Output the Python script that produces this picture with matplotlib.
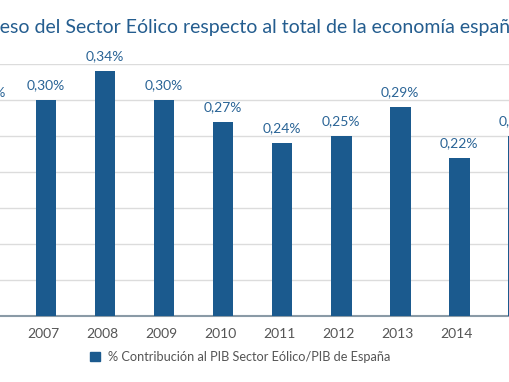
import matplotlib
matplotlib.use("Agg")
import matplotlib.pyplot as plt
from matplotlib.patches import Patch
from matplotlib.transforms import ScaledTranslation

plt.rcParams['font.family'] = ['Lato', 'DejaVu Sans']

years = ['2006', '2007', '2008', '2009', '2010', '2011', '2012', '2013', '2014', '2015']
values = [0.29, 0.30, 0.34, 0.30, 0.27, 0.24, 0.25, 0.29, 0.22, 0.25]
labels = ['0,29%', '0,30%', '0,34%', '0,30%', '0,27%', '0,24%', '0,25%', '0,29%', '0,22%', '0,25%']
title = 'Peso del Sector Eólico respecto al total de la economía española'
legend_label = '% Contribución al PIB Sector Eólico/PIB de España'

blue = '#1b5a8e'
txt_blue = '#2a6496'
gray = '#555555'

fig = plt.figure(figsize=(5.10, 3.82), dpi=100)
ax = fig.add_axes([0, 0.1728, 1, 0.6597])

pos = list(range(-1, len(years) - 1))
ax.bar(pos, values, width=0.35, color=blue, zorder=3)
for p, v, l in zip(pos, values, labels):
    ax.text(p, v + 0.012, l, ha='center', va='bottom', fontsize=10, color=txt_blue)

ax.set_yticks([0.05, 0.10, 0.15, 0.20, 0.25, 0.30, 0.35])
ax.yaxis.grid(True, color='#dcdcdc', linewidth=1, zorder=0)
ax.tick_params(axis='y', left=False, labelleft=False)
ax.set_xticks(pos)
ax.set_xticklabels(years, fontsize=10, color=gray)
ax.tick_params(axis='x', length=0, pad=9)
# labels sit a little left of the bars in the original
shift = ScaledTranslation(-3 / 100, 0, fig.dpi_scale_trans)
for lab in ax.get_xticklabels():
    lab.set_transform(lab.get_transform() + shift)
ax.set_xlim(-0.78, 7.86)
ax.set_ylim(0, 0.35)
for s in ['top', 'left', 'right']:
    ax.spines[s].set_visible(False)
ax.spines['bottom'].set_color('#8a9aa6')
ax.spines['bottom'].set_linewidth(1.5)

# title is cut at the left edge in the original: hide the "P"
renderer = fig.canvas.get_renderer()
tmp = fig.text(0, 0, 'P', fontsize=14)
pw = tmp.get_window_extent(renderer).width
tmp.remove()
fig.text(-pw / 510, 1 - 28 / 382, title, ha='left', va='center', fontsize=14, color='#245d8f')

fig.legend(handles=[Patch(color=blue)], labels=[legend_label], loc='center',
           bbox_to_anchor=(240 / 510, 1 - 357 / 382), frameon=False, fontsize=9.2,
           labelcolor=gray, handlelength=0.8, handleheight=0.8, handletextpad=0.6)

fig.savefig('out.png', dpi=100)
